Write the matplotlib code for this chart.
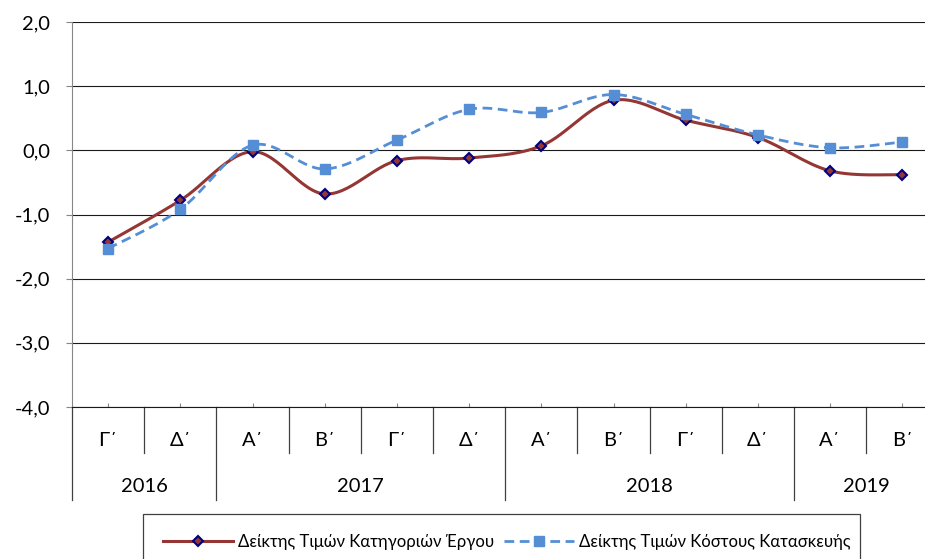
import numpy as np
import matplotlib
matplotlib.use('Agg')
import matplotlib.pyplot as plt
from matplotlib.patches import Rectangle
from matplotlib.lines import Line2D

quarters = ['Γ΄', 'Δ΄', 'Α΄', 'Β΄', 'Γ΄', 'Δ΄', 'Α΄', 'Β΄', 'Γ΄', 'Δ΄', 'Α΄', 'Β΄']
years = ['2016', '2017', '2018', '2019']
year_counts = [2, 4, 4, 2]
works_index = [-1.43, -0.78, -0.02, -0.68, -0.16, -0.12, 0.07, 0.78, 0.47, 0.20, -0.32, -0.38]
cost_index = [-1.53, -0.92, 0.08, -0.29, 0.16, 0.64, 0.59, 0.87, 0.56, 0.24, 0.04, 0.13]
series_names = ['Δείκτης Τιμών Κατηγοριών Έργου', 'Δείκτης Τιμών Κόστους Κατασκευής']
y_ticks = [-4, -3, -2, -1, 0, 1, 2]

RED = '#943634'
NAVY = '#000080'
BLUE = '#558ED5'

plt.rcParams['font.family'] = ['Lato', 'DejaVu Sans']
FS = 14.5
LEG_FS = 12


def smooth(x, y, steps=30):
    # excel style smoothed line: bezier segments with neighbour tangents
    px = np.concatenate([[x[0]], x, [x[-1]]]).astype(float)
    py = np.concatenate([[y[0]], y, [y[-1]]]).astype(float)
    pts = np.column_stack([px, py])
    t = np.linspace(0, 1, steps)[:, None]
    out = []
    for i in range(1, len(pts) - 2):
        p0, p3 = pts[i], pts[i + 1]
        p1 = p0 + (pts[i + 1] - pts[i - 1]) / 6
        p2 = p3 - (pts[i + 2] - pts[i]) / 6
        seg = (1 - t) ** 3 * p0 + 3 * (1 - t) ** 2 * t * p1 + 3 * (1 - t) * t ** 2 * p2 + t ** 3 * p3
        out.append(seg)
    out = np.vstack(out)
    return out[:, 0], out[:, 1]


W, H = 925, 559
fig = plt.figure(figsize=(W / 100, H / 100), dpi=100)
ax = fig.add_axes([72 / W, (H - 407) / H, (W - 72) / W, 385 / H])

x = np.arange(len(quarters))
sx, sy = smooth(x, works_index)
ax.plot(sx, sy, color=RED, lw=2.2, zorder=3)
ax.plot(x, works_index, ls='none', marker='D', ms=5.5, mfc=RED, mec=NAVY, mew=1.5, zorder=4)
sx, sy = smooth(x, cost_index)
ax.plot(sx, sy, color=BLUE, lw=2.0, dashes=(3.5, 2), zorder=3)
ax.plot(x, cost_index, ls='none', marker='s', ms=7, mfc=BLUE, mec=BLUE, zorder=4)

ax.set_ylim(-4, 2)
ax.set_xlim(-0.5, -0.5 + (W - 72) / 72.2)
ax.set_yticks(y_ticks)
ax.set_yticklabels([f'{v:.1f}'.replace('.', ',') for v in y_ticks], fontsize=FS)
ax.yaxis.grid(True, color='#1a1a1a', lw=0.8)
ax.set_axisbelow(True)
ax.tick_params(axis='y', length=4.3, color='#868686', pad=11.5)
ax.set_xticks(x)
ax.set_xticklabels([])
ax.tick_params(axis='x', direction='in', length=3, color='#868686')
for s in ['top', 'right']:
    ax.spines[s].set_visible(False)
ax.spines['left'].set_color('#868686')
ax.spines['bottom'].set_color('#1a1a1a')

# multi level category axis
tr = ax.get_xaxis_transform()
q_bot = (407 - 453) / 385
y_bot = (407 - 500) / 385
for i, q in enumerate(quarters):
    ax.text(i, (407 - 440) / 385, q, transform=tr, ha='center', va='center', fontsize=FS, clip_on=False)
edges = np.cumsum([0] + year_counts) - 0.5
for i in range(len(quarters) + 1):
    b = i - 0.5
    low = y_bot if b in edges else q_bot
    ax.plot([b, b], [0, low], transform=tr, color='#404040', lw=0.9, clip_on=False)
for yr, a, b in zip(years, edges[:-1], edges[1:]):
    ax.text((a + b) / 2, (407 - 486) / 385, yr, transform=tr, ha='center', va='center', fontsize=FS, clip_on=False)

# legend
fig.patches.append(Rectangle((143 / W, (H - 566) / H), (860 - 143) / W, 52 / H, transform=fig.transFigure,
                             fill=False, edgecolor='#404040', lw=0.9))
handles = [Line2D([], [], color=RED, lw=2.2, marker='D', ms=5.5, mfc=RED, mec=NAVY, mew=1.5),
           Line2D([], [], color=BLUE, lw=2.0, dashes=(3.5, 2), marker='s', ms=7, mfc=BLUE, mec=BLUE)]
fig.legend(handles, series_names, loc='center', bbox_to_anchor=(507 / W, (H - 542) / H), ncol=2,
           frameon=False, fontsize=LEG_FS, handlelength=4.2, handletextpad=0.3, columnspacing=0.6, borderpad=0)

fig.savefig('out.png', dpi=100)
